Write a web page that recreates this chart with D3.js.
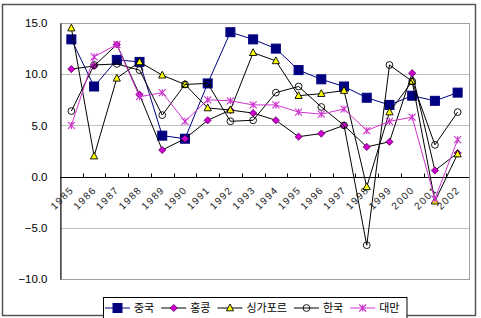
<!DOCTYPE html>
<html>
<head>
<meta charset="utf-8">
<script src="https://cdn.jsdelivr.net/npm/d3@7"></script>
<style>
  body { margin: 0; background: #fff; }
  svg text { font-family: "Noto Sans CJK KR", "DejaVu Sans", sans-serif; fill: #000; }
</style>
</head>
<body>
<div id="chart"></div>
<script>
const years = ['1985','1986','1987','1988','1989','1990','1991','1992','1993','1994',
               '1995','1996','1997','1998','1999','2000','2001','2002'];
const china     = [13.4, 8.8, 11.4, 11.2, 4.0, 3.7, 9.1, 14.1, 13.4, 12.5, 10.4, 9.5, 8.8, 7.7, 7.0, 7.9, 7.4, 8.2];
const hongkong  = [10.5, 10.8, 12.9, 8.0, 2.6, 3.7, 5.5, 6.5, 6.2, 5.5, 3.9, 4.2, 5.0, 2.9, 3.4, 10.1, 0.6, 2.3];
const singapore = [14.5, 2.0, 9.6, 11.2, 9.9, 9.0, 6.7, 6.5, 12.1, 11.3, 7.9, 8.1, 8.4, -1.0, 6.3, 9.3, -2.4, 2.2];
const korea     = [6.4, 10.9, 11.0, 10.4, 6.0, 9.0, 9.1, 5.4, 5.5, 8.2, 8.8, 6.8, 5.0, -6.7, 10.9, 9.3, 3.1, 6.3];
const taiwan    = [5.0, 11.7, 12.9, 7.8, 8.2, 5.4, 7.5, 7.4, 7.0, 7.0, 6.3, 6.1, 6.6, 4.5, 5.4, 5.8, -2.2, 3.6];
const yTicks = [-10, -5, 0, 5, 10, 15];
const seriesNames = ['중국', '홍콩', '싱가포르', '한국', '대만'];

const series = [
  { name: seriesNames[0], values: china,     line: '#000080', shape: 'square' },
  { name: seriesNames[1], values: hongkong,  line: '#000000', shape: 'diamond' },
  { name: seriesNames[2], values: singapore, line: '#000000', shape: 'triangle' },
  { name: seriesNames[3], values: korea,     line: '#000000', shape: 'circle' },
  { name: seriesNames[4], values: taiwan,    line: '#CC33CC', shape: 'star' }
];

const width = 481, height = 318;
const plot = { left: 60, right: 469, top: 23, bottom: 279 };

const svg = d3.select('#chart').append('svg')
  .attr('width', width).attr('height', height);

// outer frame
svg.append('rect')
  .attr('x', 2.5).attr('y', 4.5).attr('width', 473).attr('height', 311)
  .attr('fill', '#fff').attr('stroke', '#555').attr('stroke-width', 1.5);

const x = d3.scaleBand().domain(years).range([plot.left, plot.right]).padding(0);
const y = d3.scaleLinear().domain([-10, 15]).range([plot.bottom, plot.top]);
const cx = (i) => x(years[i]) + x.bandwidth() / 2;

// grid
svg.append('g').selectAll('line')
  .data(yTicks.filter(d => d !== 0))
  .join('line')
  .attr('x1', plot.left).attr('x2', plot.right)
  .attr('y1', d => Math.round(y(d)) + 0.5).attr('y2', d => Math.round(y(d)) + 0.5)
  .attr('stroke', '#c0c0c0');

// plot border
svg.append('rect')
  .attr('x', plot.left + 0.5).attr('y', plot.top + 0.5)
  .attr('width', plot.right - plot.left).attr('height', plot.bottom - plot.top)
  .attr('fill', 'none').attr('stroke', '#a0a0a0');

// y axis
const yAxis = d3.axisLeft(y).tickValues(yTicks).tickSize(0).tickPadding(13)
  .tickFormat(d => (d < 0 ? '\u2212' : '') + Math.abs(d).toFixed(1));
svg.append('g')
  .attr('transform', `translate(${plot.left + 0.5},0)`)
  .call(yAxis)
  .call(g => g.select('.domain').attr('stroke', '#000'))
  .call(g => g.selectAll('text').style('font-size', '11.5px').style('font-family', 'Liberation Sans, sans-serif'));

// x axis at zero
const y0 = Math.round(y(0)) + 0.5;
svg.append('line')
  .attr('x1', plot.left).attr('x2', plot.right)
  .attr('y1', y0).attr('y2', y0).attr('stroke', '#000');
svg.append('g').selectAll('line')
  .data(years.slice(1))
  .join('line')
  .attr('x1', d => Math.round(x(d)) + 0.5).attr('x2', d => Math.round(x(d)) + 0.5)
  .attr('y1', y0 - 4).attr('y2', y0)
  .attr('stroke', '#000');
svg.append('g').selectAll('text')
  .data(years)
  .join('text')
  .attr('text-anchor', 'end')
  .attr('transform', (d, i) => `translate(${cx(i) + 3},${y0 + 13}) rotate(-45)`)
  .style('font-size', '10px')
  .style('letter-spacing', '1.4px')
  .style('font-family', 'Liberation Sans, sans-serif')
  .style('fill', '#222')
  .text(d => d);

function drawMarker(g, shape, px, py) {
  if (shape === 'square') {
    g.append('rect').attr('x', px - 4.5).attr('y', py - 4.5).attr('width', 9).attr('height', 9)
      .attr('fill', '#000080').attr('stroke', '#000080');
  } else if (shape === 'diamond') {
    g.append('path').attr('d', `M${px},${py - 3.6}L${px + 3.6},${py}L${px},${py + 3.6}L${px - 3.6},${py}Z`)
      .attr('fill', '#CC00CC').attr('stroke', '#660066').attr('stroke-width', 0.8);
  } else if (shape === 'triangle') {
    g.append('path').attr('d', `M${px},${py - 4}L${px + 3.6},${py + 2.8}L${px - 3.6},${py + 2.8}Z`)
      .attr('fill', '#FFFF00').attr('stroke', '#000').attr('stroke-width', 0.9);
  } else if (shape === 'circle') {
    g.append('circle').attr('cx', px).attr('cy', py).attr('r', 3.4)
      .attr('fill', 'none').attr('stroke', '#000').attr('stroke-width', 0.9);
  } else if (shape === 'star') {
    const r = 3.5;
    g.append('path')
      .attr('d', `M${px - r},${py - r}L${px + r},${py + r}M${px - r},${py + r}L${px + r},${py - r}M${px},${py - r}L${px},${py + r}`)
      .attr('stroke', '#CC33CC').attr('stroke-width', 1.1).attr('fill', 'none');
  }
}

const line = d3.line().x((d, i) => cx(i)).y(d => y(d));
series.forEach(s => {
  const g = svg.append('g');
  g.append('path').datum(s.values).attr('d', line)
    .attr('fill', 'none').attr('stroke', s.line).attr('stroke-width', 1);
  s.values.forEach((v, i) => drawMarker(g, s.shape, cx(i), y(v)));
});

// legend
const legend = svg.append('g');
const lgBox = legend.append('rect')
  .attr('x', 103.5).attr('y', 297.5).attr('height', 24)
  .attr('fill', '#fff').attr('stroke', '#000');
let lx = 105;
const ly = 308;
series.forEach(s => {
  const g = legend.append('g');
  g.append('line').attr('x1', lx).attr('x2', lx + 25).attr('y1', ly).attr('y2', ly)
    .attr('stroke', s.line);
  drawMarker(g, s.shape, lx + 12.5, ly);
  const t = g.append('text').attr('x', lx + 29).attr('y', ly + 4)
    .style('font-size', '11px').text(s.name);
  lx += 29 + t.node().getComputedTextLength() + 7;
});
lgBox.attr('width', lx - 103);
</script>
</body>
</html>
